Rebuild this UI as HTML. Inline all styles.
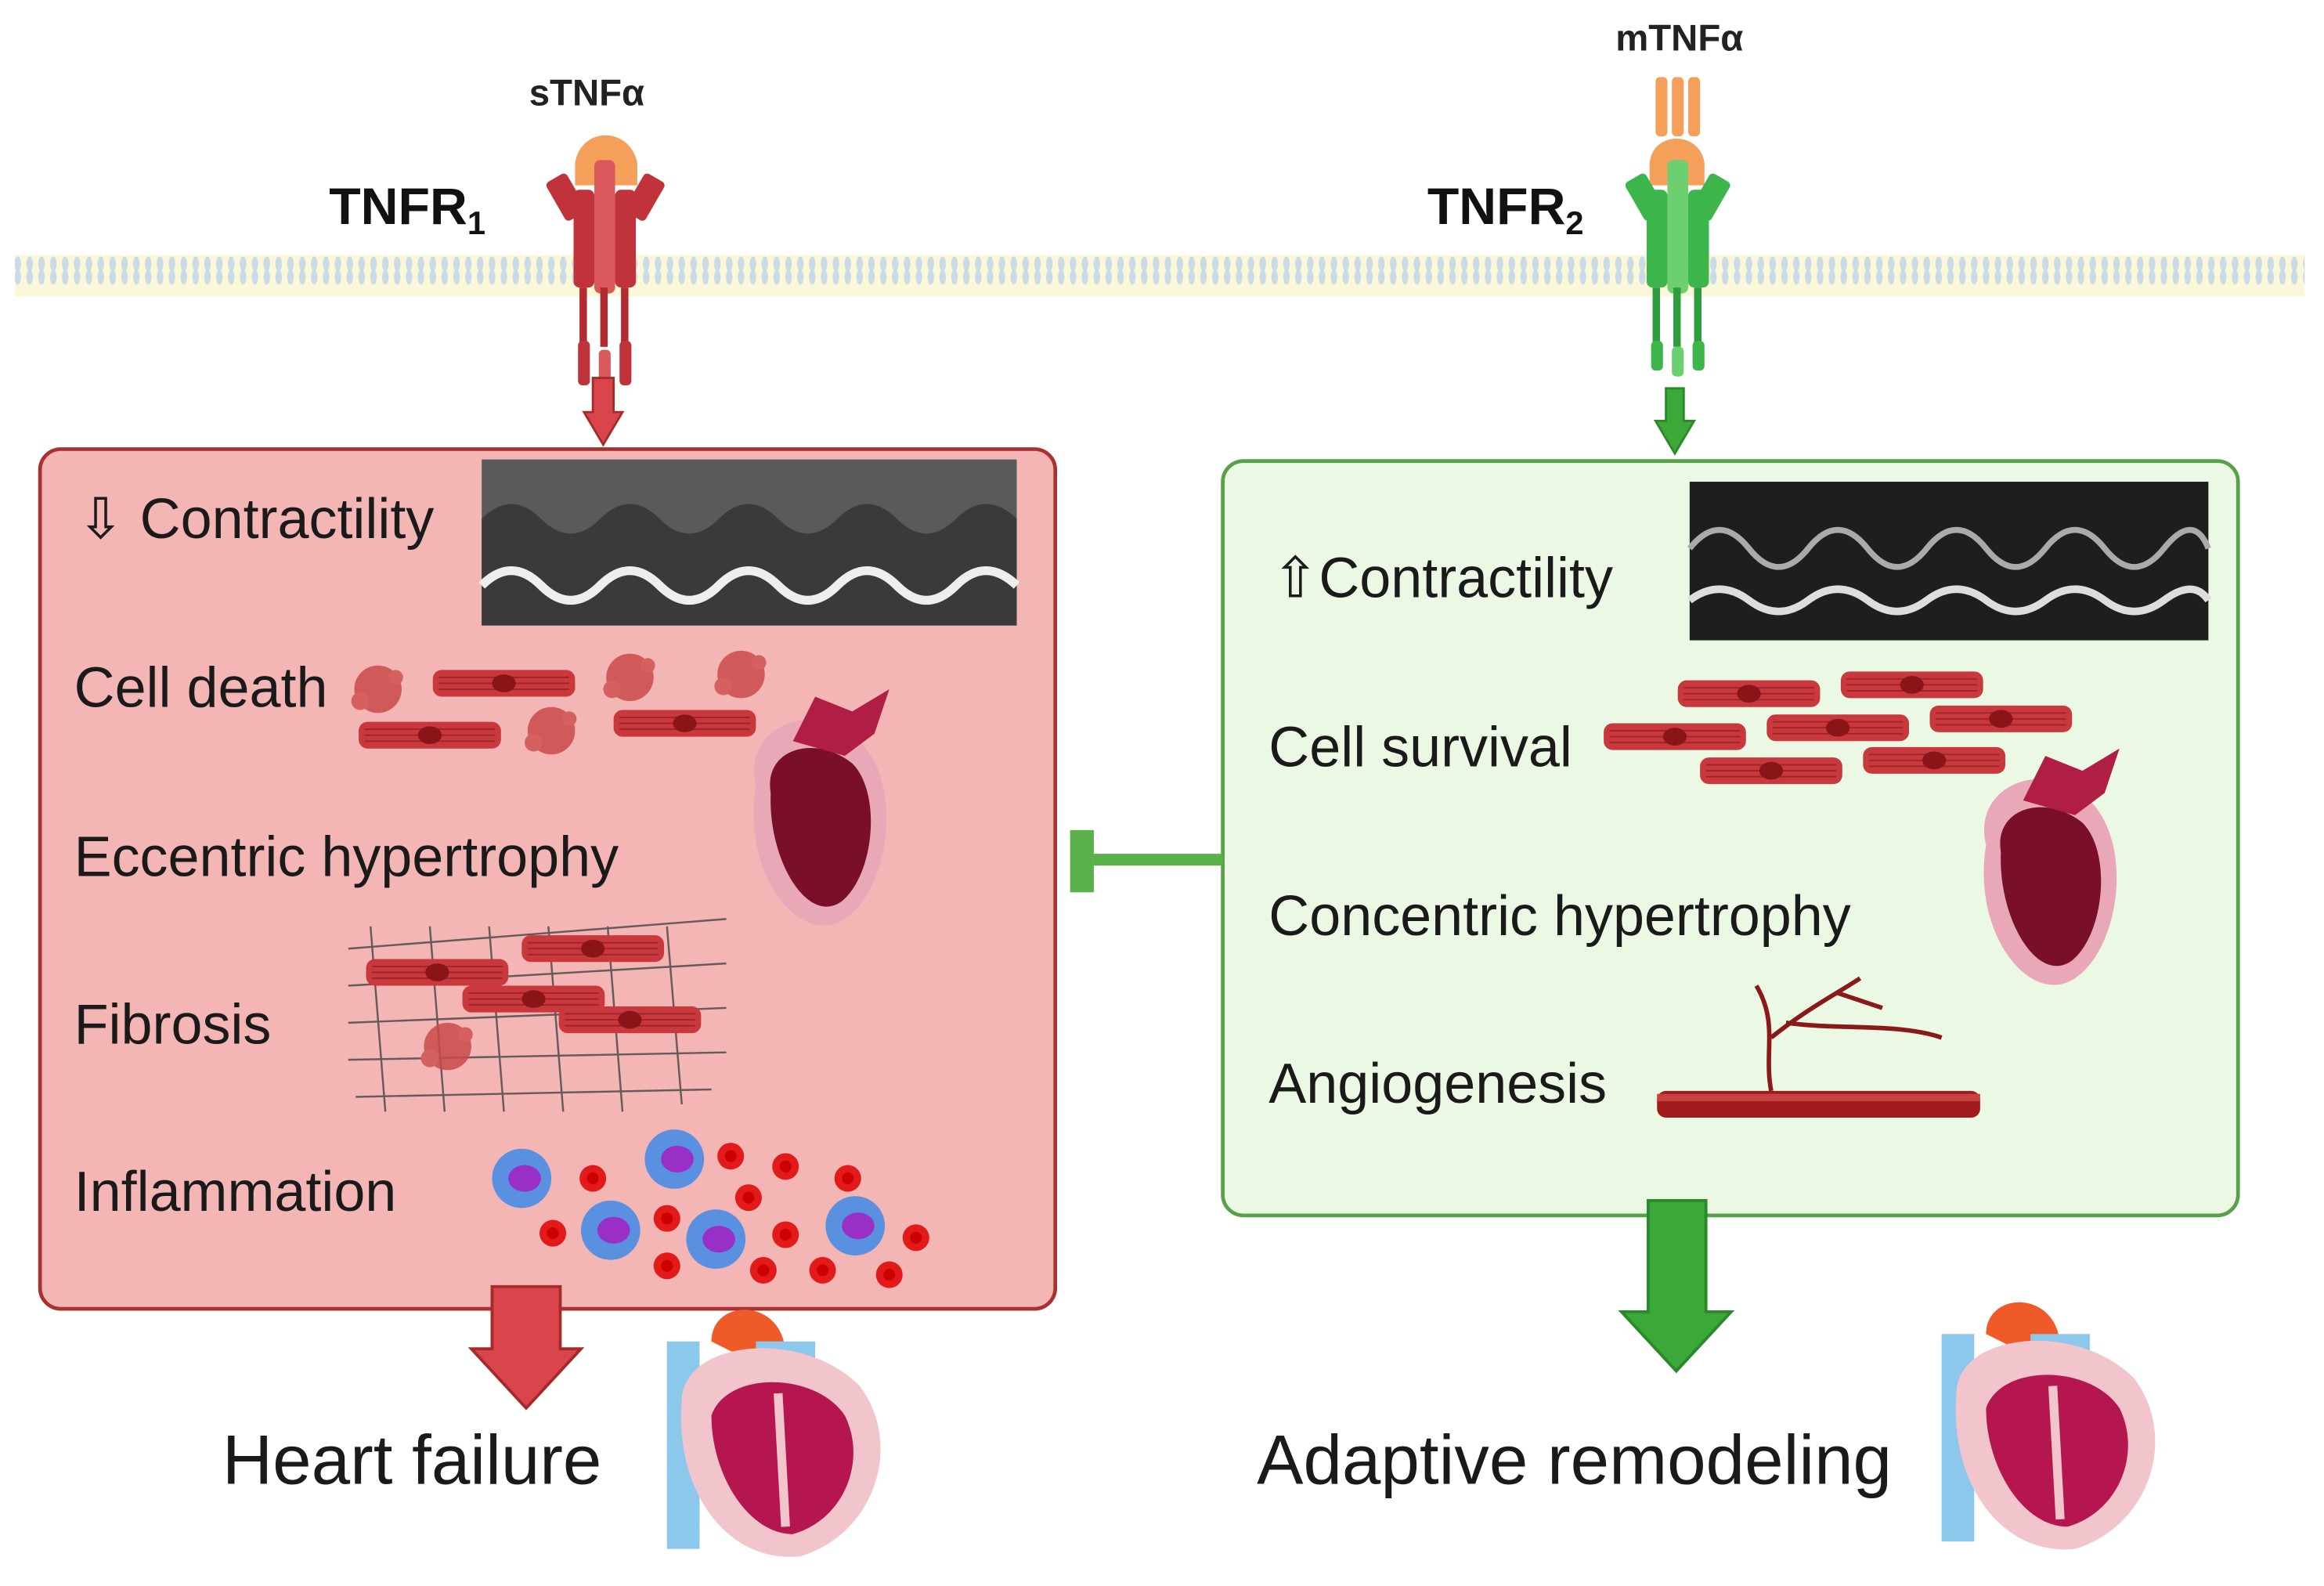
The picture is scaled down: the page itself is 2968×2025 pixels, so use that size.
<!DOCTYPE html>
<html><head><meta charset="utf-8"><style>html,body{margin:0;padding:0;background:#fff}svg{display:block}</style></head>
<body>
<svg width="2968" height="2025" viewBox="0 0 1568 1070" preserveAspectRatio="none" xmlns="http://www.w3.org/2000/svg" font-family="Liberation Sans, sans-serif">
<defs>
<pattern id="mem" width="8" height="28" patternUnits="userSpaceOnUse">
<rect width="8" height="28" fill="#fbf7d8"/>
<ellipse cx="4" cy="10" rx="2.2" ry="5" fill="#c8dbe6"/>
<ellipse cx="4" cy="19" rx="2.2" ry="5" fill="#c8dbe6"/>
</pattern>
<g id="cell"><rect x="-48" y="-9" width="96" height="18" rx="6" fill="#c8383c"/><path d="M-44 -4H44M-44 0H44M-44 4H44" stroke="#9e2428" stroke-width="1"/><ellipse cx="0" cy="0" rx="8" ry="6" fill="#8a1518"/></g>
<g id="dead"><circle r="16" fill="#c94a4a" opacity="0.85"/><circle cx="-12" cy="8" r="6" fill="#d56060"/><circle cx="12" cy="-8" r="5" fill="#d56060"/></g>
<g id="rbc"><circle r="9" fill="#e31a1a"/><circle r="4" fill="#c00" /></g>
<g id="wbc"><circle r="20" fill="#5a90e0"/><ellipse cx="2" cy="0" rx="11" ry="9" fill="#9a2fc8"/></g>
<g id="heart"><path d="M20 40 C10 0 60 -20 90 10 C120 40 110 110 80 130 C50 150 10 100 20 40Z" fill="#e9a8b8"/><path d="M30 45 C25 15 60 5 85 25 C105 45 100 100 78 118 C55 135 28 90 30 45Z" fill="#7a0f2a"/><path d="M45 10 L60 -20 L85 -10 L110 -25 L100 5 L80 20Z" fill="#b01e45"/></g>
<g id="bigheart"><rect x="0" y="20" width="22" height="140" fill="#8cc8ec"/><path d="M30 20 C30 -10 80 -10 80 30 L70 40Z" fill="#f05a28"/><rect x="60" y="20" width="40" height="18" fill="#8cc8ec"/><path d="M10 60 C10 20 90 10 130 50 C160 90 140 150 90 165 C40 170 5 120 10 60Z" fill="#f2c4cc"/><path d="M30 70 C40 40 100 40 120 70 C135 100 120 140 85 150 C55 150 30 110 30 70Z" fill="#b51650"/><path d="M75 55 L80 145" stroke="#f2c4cc" stroke-width="6"/></g>
</defs>

<rect x="10" y="172" width="1545" height="28" fill="url(#mem)"/>

<g>
<path d="M388 110 C392 85 425 85 430 110 L430 125 L388 125Z" fill="#f5a05a"/>
<rect x="374" y="118" width="16" height="30" rx="3" fill="#c0333a" transform="rotate(-30 382 133)"/>
<rect x="427" y="118" width="16" height="30" rx="3" fill="#c0333a" transform="rotate(30 435 133)"/>
<rect x="401" y="108" width="14" height="90" rx="4" fill="#d9585c"/>
<rect x="387" y="128" width="14" height="66" rx="4" fill="#c0333a"/>
<rect x="415" y="128" width="14" height="66" rx="4" fill="#c0333a"/>
<rect x="391" y="194" width="5" height="40" fill="#b32a30"/><rect x="405" y="194" width="5" height="40" fill="#b32a30"/><rect x="419" y="194" width="5" height="40" fill="#b32a30"/>
<rect x="390" y="230" width="8" height="30" rx="3" fill="#c0333a"/><rect x="404" y="236" width="8" height="28" rx="3" fill="#d9585c"/><rect x="418" y="230" width="8" height="30" rx="3" fill="#c0333a"/>
</g>
<g>
<rect x="1117" y="52" width="8" height="40" rx="3" fill="#f5a05a"/><rect x="1128" y="52" width="8" height="40" rx="3" fill="#f5a05a"/><rect x="1139" y="52" width="8" height="40" rx="3" fill="#f5a05a"/>
<path d="M1113 110 C1115 88 1147 88 1150 110 L1150 125 L1113 125Z" fill="#f5a05a"/>
<rect x="1102" y="118" width="16" height="30" rx="3" fill="#3cb54a" transform="rotate(-30 1110 133)"/>
<rect x="1146" y="118" width="16" height="30" rx="3" fill="#3cb54a" transform="rotate(30 1154 133)"/>
<rect x="1125" y="108" width="14" height="90" rx="4" fill="#6cd070"/>
<rect x="1111" y="128" width="14" height="66" rx="4" fill="#3cb54a"/>
<rect x="1139" y="128" width="14" height="66" rx="4" fill="#3cb54a"/>
<rect x="1115" y="194" width="5" height="40" fill="#2e9e3c"/><rect x="1129" y="194" width="5" height="40" fill="#2e9e3c"/><rect x="1143" y="194" width="5" height="40" fill="#2e9e3c"/>
<rect x="1114" y="230" width="8" height="20" rx="3" fill="#3cb54a"/><rect x="1128" y="234" width="8" height="20" rx="3" fill="#6cd070"/><rect x="1142" y="230" width="8" height="20" rx="3" fill="#3cb54a"/>
</g>

<text x="357" y="71" font-size="25" font-weight="bold" fill="#222">sTNFα</text>
<text x="1090" y="34" font-size="25" font-weight="bold" fill="#222">mTNFα</text>
<text x="222" y="151" font-size="35" font-weight="bold" fill="#111">TNFR<tspan font-size="22" dy="7">1</tspan></text>
<text x="963" y="151" font-size="35" font-weight="bold" fill="#111">TNFR<tspan font-size="22" dy="7">2</tspan></text>

<path d="M400 255 H414 V278 H420 L407 300 L394 278 H400Z" fill="#d9454a" stroke="#a52a2a" stroke-width="1.5"/>
<path d="M1124 262 H1136 V284 H1143 L1130 306 L1117 284 H1124Z" fill="#3ca83a" stroke="#2a8a2a" stroke-width="1.5"/>

<rect x="27" y="303" width="685" height="580" rx="14" fill="#f4b5b5" stroke="#a83232" stroke-width="2.5"/>
<rect x="825" y="311" width="685" height="509" rx="14" fill="#ebf8e4" stroke="#5aa04a" stroke-width="2.5"/>

<rect x="325" y="310" width="361" height="112" fill="#5a5a5a"/>
<path d="M325 350 Q345 330 365 350 T405 350 T445 350 T485 350 T525 350 T565 350 T605 350 T645 350 T686 350 V422 H325Z" fill="#3a3a3a"/>
<path d="M325 395 Q345 375 365 395 T405 395 T445 395 T485 395 T525 395 T565 395 T605 395 T645 395 T686 395" stroke="#eee" stroke-width="6" fill="none"/>
<rect x="1140" y="325" width="350" height="107" fill="#1e1e1e"/>
<path d="M1140 370 Q1160 345 1180 370 T1220 370 T1260 370 T1300 370 T1340 370 T1380 370 T1420 370 T1460 370 T1490 370" stroke="#aaa" stroke-width="4" fill="none"/>
<path d="M1140 405 Q1160 390 1180 405 T1220 405 T1260 405 T1300 405 T1340 405 T1380 405 T1420 405 T1460 405 T1490 405" stroke="#ddd" stroke-width="5" fill="none"/>

<g font-size="38" fill="#1a1a1a">
<text x="52" y="363">⇩ Contractility</text>
<text x="50" y="477">Cell death</text>
<text x="50" y="591">Eccentric hypertrophy</text>
<text x="50" y="704">Fibrosis</text>
<text x="50" y="817">Inflammation</text>
</g>
<use href="#cell" x="340" y="461"/><use href="#cell" x="290" y="496"/><use href="#cell" x="462" y="488"/>
<use href="#dead" x="255" y="465"/><use href="#dead" x="425" y="457"/><use href="#dead" x="500" y="455"/><use href="#dead" x="372" y="493"/>
<use href="#heart" x="490" y="490"/>
<g stroke="#444" stroke-width="1.3" fill="none" opacity="0.8">
<path d="M235 640 L490 620 M235 665 L490 650 M235 690 L490 680 M235 715 L490 710 M240 740 L480 735"/>
<path d="M250 625 L260 750 M290 625 L300 750 M330 625 L340 750 M370 625 L380 750 M410 625 L420 750 M450 625 L460 745"/>
</g>
<use href="#cell" x="295" y="656"/><use href="#cell" x="400" y="640"/><use href="#cell" x="360" y="674"/><use href="#cell" x="425" y="688"/>
<use href="#dead" x="302" y="706"/>
<use href="#wbc" x="352" y="795"/><use href="#wbc" x="455" y="782"/><use href="#wbc" x="412" y="830"/><use href="#wbc" x="483" y="836"/><use href="#wbc" x="577" y="827"/>
<use href="#rbc" x="400" y="795"/><use href="#rbc" x="493" y="780"/><use href="#rbc" x="530" y="787"/><use href="#rbc" x="572" y="795"/><use href="#rbc" x="373" y="832"/><use href="#rbc" x="450" y="822"/><use href="#rbc" x="505" y="808"/><use href="#rbc" x="530" y="833"/><use href="#rbc" x="450" y="854"/><use href="#rbc" x="515" y="857"/><use href="#rbc" x="555" y="857"/><use href="#rbc" x="600" y="860"/><use href="#rbc" x="618" y="835"/>

<g font-size="38" fill="#1a1a1a">
<text x="858" y="403">⇧Contractility</text>
<text x="856" y="517">Cell survival</text>
<text x="856" y="631">Concentric hypertrophy</text>
<text x="856" y="744">Angiogenesis</text>
</g>
<use href="#cell" x="1180" y="468"/><use href="#cell" x="1290" y="462"/><use href="#cell" x="1130" y="497"/><use href="#cell" x="1240" y="491"/><use href="#cell" x="1350" y="485"/><use href="#cell" x="1195" y="520"/><use href="#cell" x="1305" y="513"/>
<use href="#heart" x="1320" y="530"/>
<rect x="1118" y="736" width="218" height="18" rx="6" fill="#a01c1c"/><rect x="1118" y="738" width="218" height="5" fill="#c84040"/>
<path d="M1195 736 C1190 710 1200 690 1185 665 M1195 700 C1220 680 1240 670 1255 660 M1205 690 C1240 695 1280 690 1310 700 M1240 670 L1270 680" stroke="#8a1a1a" stroke-width="3" fill="none"/>

<rect x="738" y="576" width="87" height="8" fill="#5ab04a"/>
<rect x="722" y="560" width="16" height="42" fill="#5ab04a"/>

<path d="M332 868 H378 V910 H392 L355 950 L318 910 H332Z" fill="#d9454a" stroke="#a52a2a" stroke-width="2"/>
<path d="M1112 810 H1151 V885 H1168 L1131 925 L1094 885 H1112Z" fill="#3ca83a" stroke="#2a8a2a" stroke-width="2"/>

<text x="150" y="1001" font-size="47" fill="#1a1a1a">Heart failure</text>
<text x="848" y="1001" font-size="47" fill="#1a1a1a">Adaptive remodeling</text>
<use href="#bigheart" x="450" y="885"/>
<use href="#bigheart" x="1310" y="880"/>
</svg>
</body></html>
